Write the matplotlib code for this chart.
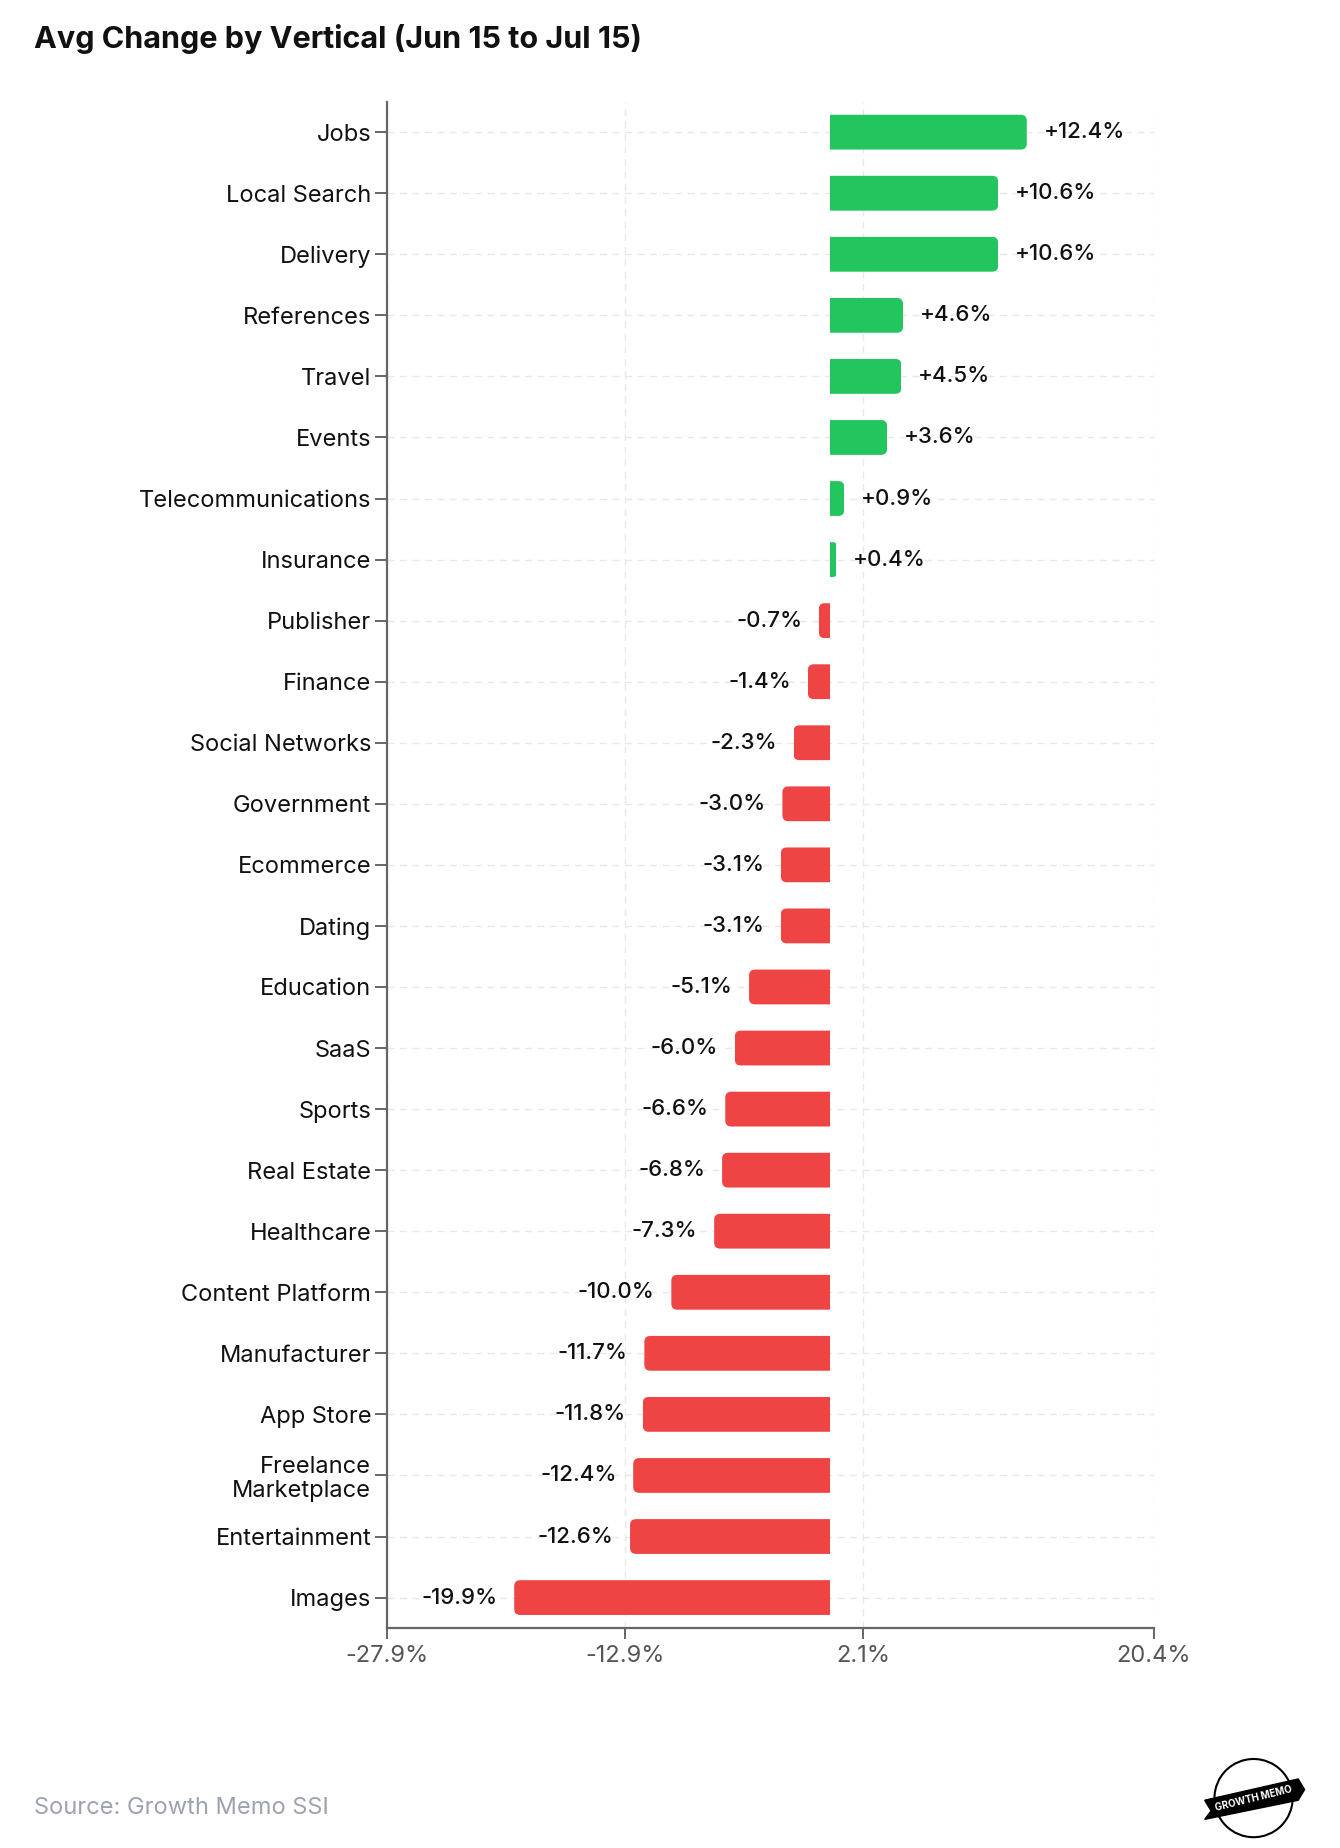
import matplotlib
matplotlib.use("Agg")
import matplotlib.pyplot as plt
from matplotlib.patches import FancyBboxPatch, Circle, Polygon, Rectangle
import numpy as np

# data, top to bottom
verticals = ["Jobs", "Local Search", "Delivery", "References", "Travel", "Events",
             "Telecommunications", "Insurance", "Publisher", "Finance",
             "Social Networks", "Government", "Ecommerce", "Dating", "Education",
             "SaaS", "Sports", "Real Estate", "Healthcare", "Content Platform",
             "Manufacturer", "App Store", "Freelance\nMarketplace", "Entertainment",
             "Images"]
changes = [12.4, 10.6, 10.6, 4.6, 4.5, 3.6, 0.9, 0.4, -0.7, -1.4, -2.3, -3.0, -3.1,
           -3.1, -5.1, -6.0, -6.6, -6.8, -7.3, -10.0, -11.7, -11.8, -12.4, -12.6, -19.9]
x_ticks = [-27.9, -12.9, 2.1, 20.4]

GREEN = "#22c55e"
RED = "#ef4444"
TXT = "#111111"
AXC = "#666666"

plt.rcParams['font.family'] = ['Inter', 'DejaVu Sans']

fig = plt.figure(figsize=(13.4, 18.48), dpi=100)
ax = fig.add_axes([0.289, 0.119, 0.572, 0.826])

y = np.arange(len(verticals))
colors = [GREEN if v >= 0 else RED for v in changes]
bars = ax.barh(y, changes, height=0.57, color=colors, zorder=3)

ax.set_xlim(x_ticks[0], x_ticks[-1])
ax.set_ylim(len(verticals) - 0.5, -0.5)
ax.set_xticks(x_ticks)
ax.set_xticklabels([f"{t}%" for t in x_ticks])
ax.set_yticks(y)
ax.set_yticklabels(verticals, linespacing=1.1)

# swap each bar for one with a rounded outer end (inner end clipped square at 0)
x_px = ax.transData.transform((1, 0))[0] - ax.transData.transform((0, 0))[0]
y_px = abs(ax.transData.transform((0, 1))[1] - ax.transData.transform((0, 0))[1])
r_px = 6.0
for b, c in zip(bars, colors):
    w = b.get_width()
    y0, h = b.get_y(), b.get_height()
    rx = min(r_px / x_px, abs(w) / 2)
    aspect = (r_px / y_px) / (r_px / x_px)
    x0 = w if w < 0 else -rx
    rb = FancyBboxPatch((x0, y0), abs(w) + rx, h,
                        boxstyle=f"round,pad=0,rounding_size={rx}",
                        mutation_aspect=aspect, fc=c, ec="none", zorder=3)
    ax.add_patch(rb)
    clip = Rectangle((min(0, w), y0 - 0.1), abs(w), h + 0.2, transform=ax.transData)
    rb.set_clip_path(clip)
    b.set_visible(False)

for yi, v in zip(y, changes):
    label = f"+{v:.1f}%" if v >= 0 else f"{v:.1f}%"
    ax.annotate(label, (v, yi), xytext=(12 if v >= 0 else -12, 0),
                textcoords="offset points", ha="left" if v >= 0 else "right",
                va="center", fontsize=16, fontweight="medium", color=TXT, zorder=4)

ax.grid(True, color="#e6e8ee", linestyle=(0, (5, 4)), linewidth=1.0, zorder=0)
ax.set_axisbelow(True)
for s in ["top", "right"]:
    ax.spines[s].set_visible(False)
for s in ["left", "bottom"]:
    ax.spines[s].set_color(AXC)
    ax.spines[s].set_linewidth(1.6)
ax.tick_params(axis="y", length=8.5, width=1.4, color=AXC, labelsize=17, labelcolor=TXT, pad=3)
ax.tick_params(axis="x", length=8, width=1.4, color=AXC, labelsize=17, labelcolor="#555555", pad=4)

fig.text(0.025, 0.979, "Avg Change by Vertical (Jun 15 to Jul 15)", fontsize=22,
         fontweight="bold", color=TXT, ha="left", va="center")
fig.text(0.025, 0.0216, "Source: Growth Memo SSI", fontsize=17, color="#9ca3af",
         ha="left", va="center")

# small badge in the corner
lax = fig.add_axes([0.893, 0.004, 0.085, 0.046])
lax.set_xlim(-1.3, 1.3)
lax.set_ylim(-1, 1)
lax.set_aspect("equal")
lax.axis("off")
lax.add_patch(Circle((0, 0), 0.92, fc="white", ec="black", lw=1.5))
lax.add_patch(Polygon([[-1.15, -0.5], [-1.0, -0.3], [-1.15, -0.05], [1.05, 0.45],
                       [1.2, 0.2], [1.05, -0.05]],
                      closed=True, fc="black", ec="black"))
lax.text(0, -0.02, "GROWTH MEMO", rotation=14, color="white", fontsize=7,
         fontweight="bold", ha="center", va="center")

fig.savefig("out.png", dpi=100, facecolor="white")
